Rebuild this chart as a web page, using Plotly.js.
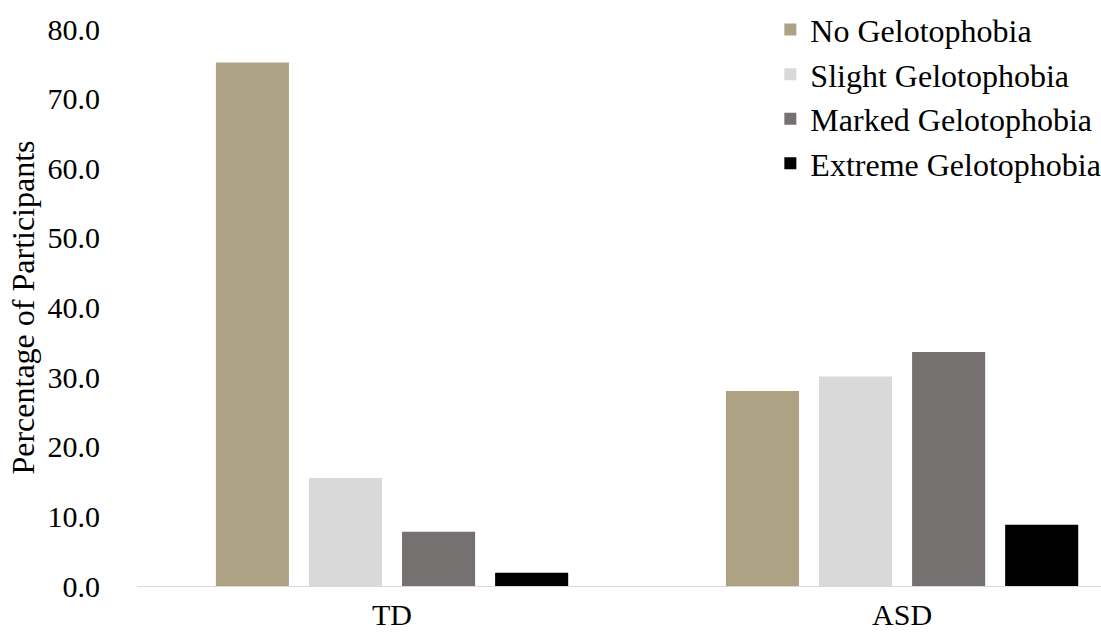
<!DOCTYPE html>
<html>
<head>
<meta charset="utf-8">
<script src="https://cdn.plot.ly/plotly-3.0.1.min.js"></script>
<style>html,body{margin:0;padding:0;background:#fff;}#chart{width:1101px;height:634px;}</style>
</head>
<body>
<div id="chart"></div>
<script>
const groups = ["TD", "ASD"];
const seriesNames = ["No Gelotophobia", "Slight Gelotophobia", "Marked Gelotophobia", "Extreme Gelotophobia"];
const noGelotophobia = [75.2, 28.0];
const slightGelotophobia = [15.5, 30.1];
const markedGelotophobia = [7.8, 33.6];
const extremeGelotophobia = [1.9, 8.8];
const yTicks = [0, 10, 20, 30, 40, 50, 60, 70, 80];
const colors = ["#ada284", "#d9d9d9", "#767171", "#000000"];

const values = [noGelotophobia, slightGelotophobia, markedGelotophobia, extremeGelotophobia];
const font = "Liberation Serif, Times New Roman, serif";

const data = values.map((v, i) => ({
  type: "bar",
  name: seriesNames[i],
  x: groups,
  y: v,
  marker: { color: colors[i], line: { width: 0 } },
  hoverinfo: "x+y+name"
}));

const layout = {
  width: 1101,
  height: 634,
  paper_bgcolor: "#ffffff",
  plot_bgcolor: "#ffffff",
  margin: { l: 137, r: 0, t: 29, b: 48, pad: 0, autoexpand: false },
  barmode: "group",
  bargap: 0.27,
  bargroupgap: 0.215,
  font: { family: font, size: 30, color: "#000000" },
  xaxis: {
    type: "category",
    range: [-0.5, 1.39],
    showline: true,
    linecolor: "#d9d9d9",
    linewidth: 1,
    showgrid: false,
    zeroline: false,
    ticks: "outside",
    ticklen: 2,
    tickcolor: "rgba(0,0,0,0)",
    tickfont: { family: font, size: 30, color: "#000000" }
  },
  yaxis: {
    range: [0, 80],
    tickvals: yTicks,
    ticktext: yTicks.map(t => t.toFixed(1)),
    showgrid: false,
    zeroline: false,
    showline: false,
    ticks: "outside",
    ticklen: 30,
    tickcolor: "rgba(0,0,0,0)",
    tickfont: { family: font, size: 30, color: "#000000" },
    title: { text: "Percentage of Participants", font: { family: font, size: 32, color: "#000000" }, standoff: 3 }
  },
  legend: {
    x: 0.657,
    xanchor: "left",
    y: 1.048,
    yanchor: "top",
    bgcolor: "rgba(0,0,0,0)",
    font: { family: font, size: 32, color: "#000000" },
    itemwidth: 30
  },
  showlegend: true
};

Plotly.newPlot("chart", data, layout, { displayModeBar: false, staticPlot: true });
</script>
</body>
</html>
